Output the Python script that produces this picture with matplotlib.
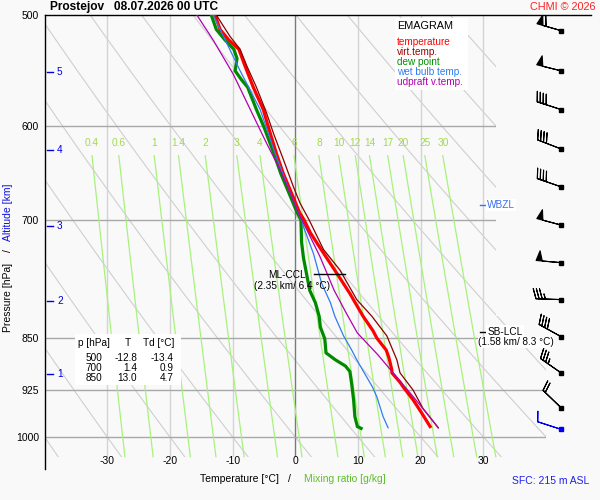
import numpy as np
import matplotlib
matplotlib.use('Agg')
import matplotlib.pyplot as plt
from matplotlib.patches import Polygon, Rectangle
from matplotlib.ticker import NullLocator

plt.rcParams['font.family'] = ['Liberation Sans', 'DejaVu Sans']

# ---------------- data ----------------
p_temp = [500, 512, 521, 529, 544, 563, 584, 601, 628, 649, 670, 692, 700, 715, 737,
          764, 790, 820, 840, 850, 867, 877, 888, 896, 900, 914, 921, 941, 962, 983]
temp = [-12.8, -12.0, -10.6, -9.0, -8.0, -6.7, -5.1, -4.3, -3.0, -1.9, -0.6, 0.7, 1.4, 2.4, 4.3,
        6.6, 8.7, 10.8, 12.4, 13.0, 14.5, 14.9, 15.2, 15.4, 15.4, 16.7, 17.2, 18.8, 20.2, 21.5]

p_dew = [500, 512, 521, 529, 537, 548, 556, 563, 584, 601, 628, 649, 670, 692, 700, 726,
         745, 786, 802, 820, 835, 851, 871, 881, 890, 898, 917, 941, 967, 983, 986]
dewp = [-13.4, -12.6, -11.2, -9.8, -9.3, -9.6, -8.6, -7.6, -6.2, -5.0, -3.4, -2.3, -1.0, 0.3, 0.9, 1.0,
        1.3, 2.3, 3.2, 3.8, 4.0, 4.7, 4.9, 6.4, 8.0, 8.7, 9.0, 9.3, 9.5, 9.9, 10.5]

p_virt = [500, 518, 529, 544, 563, 587, 607, 634, 663, 681, 700, 735, 760, 798, 820, 847,
          881, 900, 926, 955, 985]
virt = [-12.6, -10.4, -8.8, -7.7, -6.2, -4.6, -3.5, -1.9, -0.3, 0.75, 2.2, 4.5, 7.1, 9.8, 12.2, 14.6,
        16.2, 16.7, 18.8, 20.4, 22.8]

p_wet = [500, 548, 584, 628, 670, 700, 708, 740, 777, 802, 820, 847, 867, 881, 900, 921, 936, 967, 985]
wetb = [-13.1, -8.8, -5.6, -3.2, -0.8, 1.0, 1.3, 2.9, 4.2, 5.6, 6.3, 7.7, 9.0, 9.8, 11.0, 12.3, 13.0, 14.0, 14.8]

p_parcel = [500, 521, 551, 590, 617, 645, 670, 692, 711, 743, 786, 817, 843, 874, 900, 929, 962, 985]
parcel = [-15.7, -13.1, -9.9, -6.7, -4.6, -2.4, -0.8, 0.5, 1.8, 3.9, 6.2, 8.2, 9.9, 13.2, 15.6, 18.2, 21.0, 22.8]

wind_p = [513, 548, 584, 623, 663, 706, 751, 798, 848, 900, 953, 987]
wind_dir = [286, 284, 288, 291, 289, 285, 275, 272, 299, 305, 314, 288]
wind_kt = [60, 50, 40, 40, 40, 50, 50, 35, 40, 35, 20, 10]

mix_ratios = [0.4, 0.6, 1, 1.4, 2, 3, 4, 6, 8, 10, 12, 14, 17, 20, 25, 30]
mix_labels = ['0.4', '0.6', '1', '1.4', '2', '3', '4', '6', '8', '10', '12', '14', '17', '20', '25', '30']
dry_adiabat_T1000 = list(range(-40, 110, 10))
isotherms = [-30, -20, -10, 0, 10, 20, 30]
isobars = [500, 600, 700, 850, 925, 1000]
alt_km = [1, 2, 3, 4, 5]
alt_p = [902, 800, 707, 624, 549]

table_p = [500, 700, 850]
table_T = [-12.8, 1.4, 13.0]
table_Td = [-13.4, 0.9, 4.7]

ml_ccl_p, ml_ccl_T = 765, (3.0, 7.9)
sb_lcl_p = 841
wbzl_p = 683

# ---------------- figure ----------------
W, H = 600, 500
fig = plt.figure(figsize=(6, 5), dpi=100)
BG = '#f9f9f9'
fig.patch.set_facecolor(BG)

def fx(x):
    return x / W

def fy(y):
    return 1 - y / H

ax = fig.add_axes([fx(44.5), fy(469), (546.1 - 44.5) / W, (469 - 15) / H])
ax.set_facecolor('none')
ax.set_yscale('log')
ax.set_xlim(-40, 40)
ax.set_ylim(1054, 500)
for s in ['top', 'right', 'bottom']:
    ax.spines[s].set_visible(False)
ax.spines['left'].set_linewidth(1.0)
ax.set_yticks(isobars)
ax.set_yticklabels([str(p) for p in isobars])
ax.yaxis.set_minor_locator(NullLocator())
ax.yaxis.set_minor_formatter(plt.NullFormatter())
ax.tick_params(axis='y', length=0, pad=4, labelsize=7.5)
ax.set_xticks([])

clip = Polygon([(-40, 500), (32, 500), (32, 820), (40, 820), (40, 1033), (-40, 1033)],
               closed=True, transform=ax.transData, facecolor='none', edgecolor='none')

P_LOW = 1033
# dry adiabats
pp = np.geomspace(500, P_LOW, 200)
for t0 in dry_adiabat_T1000:
    th = t0 + 273.15
    tt = th * (pp / 1000.0) ** 0.286 - 273.15
    ln, = ax.plot(tt, pp, color='#cfcfcf', lw=0.8, zorder=1)
    ln.set_clip_path(clip)

# isotherms
for t in isotherms:
    ln, = ax.plot([t, t], [500, P_LOW], color='#7a7a7a' if t == 0 else '#d4d4d4',
                  lw=1.0, zorder=1.5)
    ln.set_clip_path(clip)

# isobars
for p in isobars[1:]:
    ln, = ax.plot([-40, 40], [p, p], color='#a8a8a8', lw=1.0, zorder=1.6)
    ln.set_clip_path(clip)

ax.plot([0, 1.0895], [1, 1], transform=ax.transAxes, color='black', lw=1.0, clip_on=False)

# mixing ratio lines
pm = np.geomspace(630, P_LOW, 100)
for w, lab in zip(mix_ratios, mix_labels):
    e = w * pm / (622.0 + w)
    a = np.log(e / 6.112)
    td = 243.5 * a / (17.67 - a)
    ax.plot(td, pm, color='#a8f27c', lw=0.9, zorder=2)
    ax.text(td[0], 617, lab, ha='center', va='center', color='#a2d94e', fontsize=7.3)

# x tick labels
for t in isotherms:
    ax.text(t, 1041, str(t), ha='center', va='center', fontsize=7.5)

# profiles
ax.plot(dewp, p_dew, color='#008a00', lw=2.3, zorder=5, solid_joinstyle='miter')
ax.plot(temp, p_temp, color='#ff0000', lw=2.3, zorder=5.5)
ax.plot(wetb, p_wet, color='#2f7cf0', lw=0.9, zorder=6)
ax.plot(virt, p_virt, color='#8b0000', lw=0.9, zorder=6)
ax.plot(parcel, p_parcel, color='#b000b0', lw=0.9, zorder=6)

# ML-CCL
ax.plot(list(ml_ccl_T), [ml_ccl_p, ml_ccl_p], color='black', lw=1.0, zorder=7)
ax.text(1.6, 766, 'ML-CCL', ha='right', va='center', fontsize=7.2, zorder=7)
ax.text(-0.45, 780, '(2.35 km/ 6.4 °C)', ha='center', va='center', fontsize=7.2, zorder=7)

# SB-LCL
ax.plot([29.5, 30.3], [sb_lcl_p, sb_lcl_p], color='black', lw=1.0, zorder=7)
ax.text(30.6, sb_lcl_p, 'SB-LCL', ha='left', va='center', fontsize=7.2, zorder=7,
        bbox=dict(facecolor='white', edgecolor='none', pad=0.8))
ax.text(35.2, 856, '(1.58 km/ 8.3 °C)', ha='center', va='center', fontsize=7.2, zorder=7,
        bbox=dict(facecolor='white', edgecolor='none', pad=0.3), clip_on=False)

# WBZL
ax.plot([29.5, 30.3], [wbzl_p, wbzl_p], color='#3a6ff0', lw=1.0, zorder=7)
ax.text(30.6, wbzl_p, 'WBZL', ha='left', va='center', fontsize=7.2, color='#3a6ff0', zorder=7,
        bbox=dict(facecolor='white', edgecolor='none', pad=0.8))

# altitude ticks
blend = ax.get_yaxis_transform()
for km, p in zip(alt_km, alt_p):
    ax.plot([0.004, 0.016], [p, p], transform=blend, color='#0000e0', lw=1.0, clip_on=False)
    ax.text(0.025, p, str(km), transform=blend, ha='left', va='center', color='#0000e0', fontsize=7.2)

# wind barbs
axb = fig.add_axes([fx(520), fy(469), 80 / W, (469 - 15) / H])
axb.set_yscale('log')
axb.set_ylim(1054, 500)
axb.set_xlim(0, 1)
axb.axis('off')
xb = (561 - 520) / 80
d = np.deg2rad(np.array(wind_dir, dtype=float))
s = np.array(wind_kt, dtype=float)
u = -s * np.sin(d)
v = -s * np.cos(d)
wp = np.array(wind_p, dtype=float)
n = len(wp)
axb.barbs(np.full(n - 1, xb), wp[:-1], u[:-1], v[:-1], length=6, lw=0.8,
          barbcolor='black', flagcolor='black')
axb.barbs([xb], wp[-1:], u[-1:], v[-1:], length=6, lw=0.8,
          barbcolor='#0000ee', flagcolor='#0000ee')
axb.plot(np.full(n - 1, xb), wp[:-1], 's', ms=2.2, color='black')
axb.plot([xb], wp[-1:], 's', ms=2.2, color='#0000ee')

# legend box
fig.patches.append(Rectangle((fx(395), fy(90)), 73 / W, 72 / H, transform=fig.transFigure,
                             facecolor='white', edgecolor='none', zorder=3))
fig.text(fx(397), fy(26), 'EMAGRAM', ha='left', va='center', fontsize=7.8, zorder=4)
leg = [('temperature', '#ff0000'), ('virt.temp.', '#9b0000'), ('dew point', '#009000'),
       ('wet bulb temp.', '#2f7cf0'), ('udpraft v.temp.', '#b000b0')]
for i, (t, c) in enumerate(leg):
    fig.text(fx(397), fy(42 + 10 * i), t, ha='left', va='center', fontsize=7.2, color=c, zorder=4)

# table
fig.patches.append(Rectangle((fx(75), fy(385)), 106 / W, 51 / H, transform=fig.transFigure,
                             facecolor='white', edgecolor='none', zorder=3))
fig.text(fx(78), fy(343), 'p [hPa]', ha='left', va='center', fontsize=7.2, zorder=4)
fig.text(fx(128), fy(343), 'T', ha='center', va='center', fontsize=7.2, zorder=4)
fig.text(fx(143), fy(343), 'Td [°C]', ha='left', va='center', fontsize=7.2, zorder=4)
for i, (p, t, td) in enumerate(zip(table_p, table_T, table_Td)):
    yy = fy(358 + 10 * i)
    fig.text(fx(102), yy, str(p), ha='right', va='center', fontsize=7.2, zorder=4)
    fig.text(fx(137), yy, f'{t:.1f}', ha='right', va='center', fontsize=7.2, zorder=4)
    fig.text(fx(174), yy, f'{td:.1f}', ha='right', va='center', fontsize=7.2, zorder=4)

# titles and labels
fig.text(fx(50), fy(7), 'Prostejov   08.07.2026 00 UTC', ha='left', va='center',
         fontsize=8.6, fontweight='bold')
fig.text(fx(596), fy(7), 'CHMI © 2026', ha='right', va='center', fontsize=7.8, color='#ff2020')
fig.text(fx(8), fy(297), 'Pressure [hPa]', rotation=90, ha='center', va='center', fontsize=7.5)
fig.text(fx(8), fy(251), '/', rotation=90, ha='center', va='center', fontsize=7.5)
fig.text(fx(8), fy(212), 'Altitude [km]', rotation=90, ha='center', va='center', fontsize=7.5,
         color='#1010e0')
fig.text(fx(239), fy(479), 'Temperature [°C]', ha='center', va='center', fontsize=7.5)
fig.text(fx(289), fy(479), '/', ha='center', va='center', fontsize=7.5)
fig.text(fx(345), fy(479), 'Mixing ratio [g/kg]', ha='center', va='center', fontsize=7.5,
         color='#5cc02a')
fig.text(fx(551), fy(481), 'SFC: 215 m ASL', ha='center', va='center', fontsize=7.5,
         color='#2020f0')

fig.savefig('out.png', dpi=100, facecolor=BG)
